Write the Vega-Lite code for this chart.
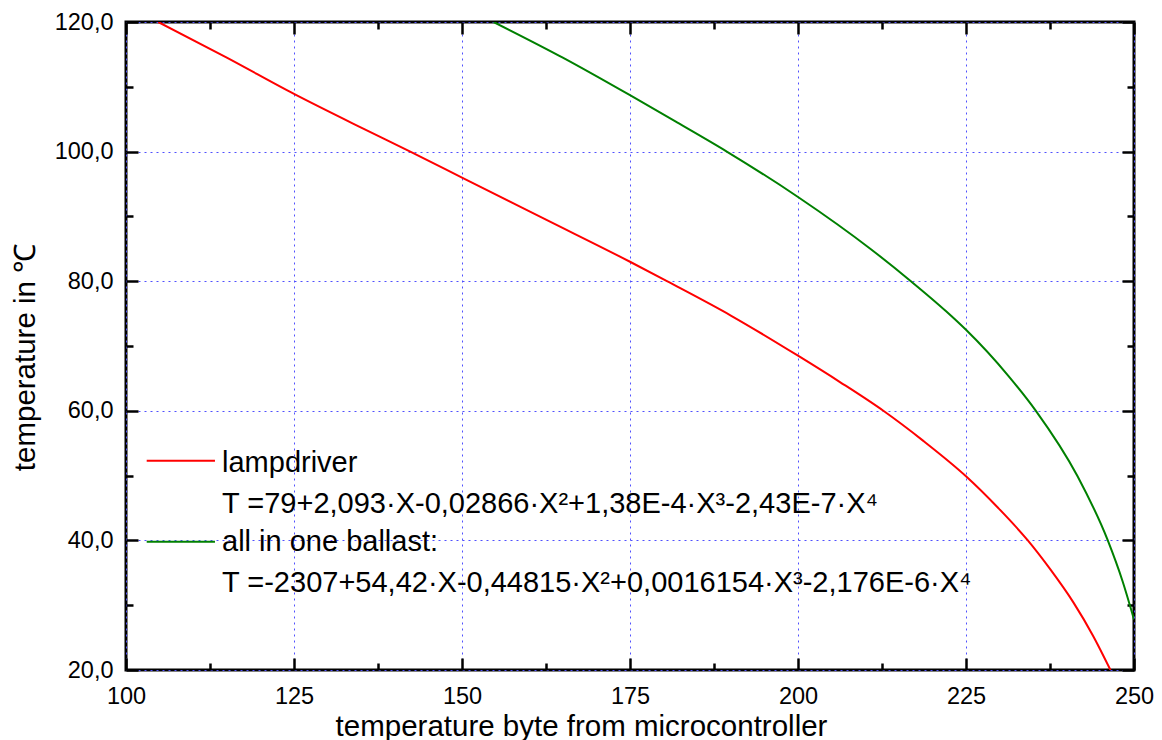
{
  "$schema": "https://vega.github.io/schema/vega-lite/v6.json",
  "width": 1008,
  "height": 648,
  "autosize": {"type": "none"},
  "padding": {"left": 126, "top": 22, "right": 28, "bottom": 70},
  "background": "white",
  "config": {
    "view": {"stroke": "black", "strokeWidth": 3},
    "font": "Liberation Sans, Arial, sans-serif",
    "axis": {
      "domain": false,
      "labelFont": "Liberation Sans, Arial, sans-serif",
      "titleFont": "Liberation Sans, Arial, sans-serif",
      "labelColor": "black",
      "titleColor": "black",
      "tickColor": "black",
      "tickWidth": 2.5,
      "labelOverlap": false,
      "labelFlush": false
    },
    "text": {"font": "Liberation Sans, Arial, sans-serif"}
  },
  "datasets": {
    "curves": [
      {"series": "lampdriver", "X": 104.8, "T": 120},
      {"series": "lampdriver", "X": 115, "T": 114.5},
      {"series": "lampdriver", "X": 125, "T": 108.9},
      {"series": "lampdriver", "X": 135, "T": 103.7},
      {"series": "lampdriver", "X": 142.3, "T": 100},
      {"series": "lampdriver", "X": 150, "T": 96.0},
      {"series": "lampdriver", "X": 162.5, "T": 89.5},
      {"series": "lampdriver", "X": 175, "T": 83.0},
      {"series": "lampdriver", "X": 180.5, "T": 80},
      {"series": "lampdriver", "X": 190, "T": 74.7},
      {"series": "lampdriver", "X": 200, "T": 68.5},
      {"series": "lampdriver", "X": 206.3, "T": 64.4},
      {"series": "lampdriver", "X": 212.7, "T": 60},
      {"series": "lampdriver", "X": 218.6, "T": 55.4},
      {"series": "lampdriver", "X": 225, "T": 49.9},
      {"series": "lampdriver", "X": 229.8, "T": 45.0},
      {"series": "lampdriver", "X": 234.2, "T": 40},
      {"series": "lampdriver", "X": 237.5, "T": 35.6},
      {"series": "lampdriver", "X": 241, "T": 30.4},
      {"series": "lampdriver", "X": 243.9, "T": 25.3},
      {"series": "lampdriver", "X": 246.5, "T": 20},
      {"series": "all in one ballast", "X": 154.7, "T": 120},
      {"series": "all in one ballast", "X": 165, "T": 114.5},
      {"series": "all in one ballast", "X": 175, "T": 108.7},
      {"series": "all in one ballast", "X": 182, "T": 104.5},
      {"series": "all in one ballast", "X": 189.4, "T": 100},
      {"series": "all in one ballast", "X": 200, "T": 93.0},
      {"series": "all in one ballast", "X": 210.9, "T": 84.9},
      {"series": "all in one ballast", "X": 216.8, "T": 80},
      {"series": "all in one ballast", "X": 222, "T": 75.4},
      {"series": "all in one ballast", "X": 225, "T": 72.5},
      {"series": "all in one ballast", "X": 231.3, "T": 65.4},
      {"series": "all in one ballast", "X": 235.4, "T": 60},
      {"series": "all in one ballast", "X": 241.6, "T": 49.9},
      {"series": "all in one ballast", "X": 246.1, "T": 40},
      {"series": "all in one ballast", "X": 248.3, "T": 33.7},
      {"series": "all in one ballast", "X": 250, "T": 27.8}
    ],
    "one": [{}]
  },
  "resolve": {"axis": {"x": "independent", "y": "independent"}},
  "layer": [
    {
      "data": {"name": "curves"},
      "mark": {"type": "line", "strokeWidth": 2, "clip": true, "interpolate": "monotone"},
      "encoding": {
        "x": {
          "field": "X", "type": "quantitative",
          "scale": {"domain": [100, 250], "nice": false, "zero": false},
          "axis": {
            "orient": "bottom",
            "values": [100, 125, 150, 175, 200, 225, 250],
            "ticks": false,
            "grid": true, "gridColor": "#5050ff", "gridDash": [2, 4], "gridWidth": 1,
            "labelFontSize": 23.5, "labelPadding": 14, "format": "d",
            "title": "temperature byte from microcontroller",
            "titleFontSize": 29.5, "titleFontWeight": "normal",
            "titleX": 455, "titleY": 65, "titleBaseline": "alphabetic", "titleAlign": "center"
          }
        },
        "y": {
          "field": "T", "type": "quantitative",
          "scale": {"domain": [20, 120], "nice": false, "zero": false},
          "axis": {
            "orient": "left",
            "values": [20, 40, 60, 80, 100, 120],
            "ticks": false,
            "grid": true, "gridColor": "#5050ff", "gridDash": [2, 4], "gridWidth": 1,
            "labelFontSize": 23.5, "labelPadding": 13,
            "labelExpr": "replace(format(datum.value, '.1f'), '.', ',')",
            "title": "temperature in ℃",
            "titleFontSize": 29.5, "titleFontWeight": "normal",
            "titleX": -92, "titleY": 335, "titleAngle": -90, "titleBaseline": "alphabetic", "titleAlign": "center"
          }
        },
        "color": {
          "field": "series", "type": "nominal",
          "scale": {"domain": ["lampdriver", "all in one ballast"], "range": ["#ff0000", "#008000"]},
          "legend": null
        }
      }
    },
    {
      "data": {"name": "curves"},
      "mark": {"type": "point", "opacity": 0},
      "encoding": {
        "x": {"field": "X", "type": "quantitative",
          "axis": {"orient": "bottom", "values": [100, 125, 150, 175, 200, 225, 250], "labels": false, "grid": false, "tickSize": -12, "title": null}},
        "y": {"field": "T", "type": "quantitative",
          "axis": {"orient": "left", "values": [20, 40, 60, 80, 100, 120], "labels": false, "grid": false, "tickSize": -12, "title": null}}
      }
    },
    {
      "data": {"name": "curves"},
      "mark": {"type": "point", "opacity": 0},
      "encoding": {
        "x": {"field": "X", "type": "quantitative",
          "axis": {"orient": "bottom", "values": [112.5, 137.5, 162.5, 187.5, 212.5, 237.5], "labels": false, "grid": false, "tickSize": -7, "title": null}},
        "y": {"field": "T", "type": "quantitative",
          "axis": {"orient": "left", "values": [30, 50, 70, 90, 110], "labels": false, "grid": false, "tickSize": -7, "title": null}}
      }
    },
    {
      "data": {"name": "curves"},
      "mark": {"type": "point", "opacity": 0},
      "encoding": {
        "x": {"field": "X", "type": "quantitative",
          "axis": {"orient": "top", "values": [100, 125, 150, 175, 200, 225, 250], "labels": false, "grid": false, "tickSize": -12, "title": null}},
        "y": {"field": "T", "type": "quantitative",
          "axis": {"orient": "right", "values": [20, 40, 60, 80, 100, 120], "labels": false, "grid": false, "tickSize": -12, "title": null}}
      }
    },
    {
      "data": {"name": "curves"},
      "mark": {"type": "point", "opacity": 0},
      "encoding": {
        "x": {"field": "X", "type": "quantitative",
          "axis": {"orient": "top", "values": [112.5, 137.5, 162.5, 187.5, 212.5, 237.5], "labels": false, "grid": false, "tickSize": -7, "title": null}},
        "y": {"field": "T", "type": "quantitative",
          "axis": {"orient": "right", "values": [30, 50, 70, 90, 110], "labels": false, "grid": false, "tickSize": -7, "title": null}}
      }
    },
    {
      "data": {"name": "one"},
      "mark": {"type": "rule", "color": "#ff0000", "strokeWidth": 2},
      "encoding": {
        "x": {"datum": 103.08, "type": "quantitative", "axis": null},
        "x2": {"datum": 113.24},
        "y": {"datum": 52.3, "type": "quantitative", "axis": null}
      }
    },
    {
      "data": {"name": "one"},
      "mark": {"type": "rule", "color": "#008000", "strokeWidth": 2},
      "encoding": {
        "x": {"datum": 103.08, "type": "quantitative", "axis": null},
        "x2": {"datum": 113.24},
        "y": {"datum": 39.8, "type": "quantitative", "axis": null}
      }
    },
    {
      "data": {"name": "one"},
      "mark": {"type": "text", "text": "lampdriver", "fontSize": 29, "align": "left", "baseline": "alphabetic", "color": "black"},
      "encoding": {
        "x": {"datum": 114.29, "type": "quantitative", "axis": null},
        "y": {"datum": 50.6, "type": "quantitative", "axis": null}
      }
    },
    {
      "data": {"name": "one"},
      "mark": {"type": "text", "text": "T =79+2,093·X-0,02866·X²+1,38E-4·X³-2,43E-7·X⁴", "fontSize": 29, "align": "left", "baseline": "alphabetic", "color": "black"},
      "encoding": {
        "x": {"datum": 114.29, "type": "quantitative", "axis": null},
        "y": {"datum": 44.18, "type": "quantitative", "axis": null}
      }
    },
    {
      "data": {"name": "one"},
      "mark": {"type": "text", "text": "all in one ballast:", "fontSize": 29, "align": "left", "baseline": "alphabetic", "color": "black"},
      "encoding": {
        "x": {"datum": 114.29, "type": "quantitative", "axis": null},
        "y": {"datum": 38.36, "type": "quantitative", "axis": null}
      }
    },
    {
      "data": {"name": "one"},
      "mark": {"type": "text", "text": "T =-2307+54,42·X-0,44815·X²+0,0016154·X³-2,176E-6·X⁴", "fontSize": 29, "align": "left", "baseline": "alphabetic", "color": "black"},
      "encoding": {
        "x": {"datum": 114.29, "type": "quantitative", "axis": null},
        "y": {"datum": 32.08, "type": "quantitative", "axis": null}
      }
    }
  ]
}
